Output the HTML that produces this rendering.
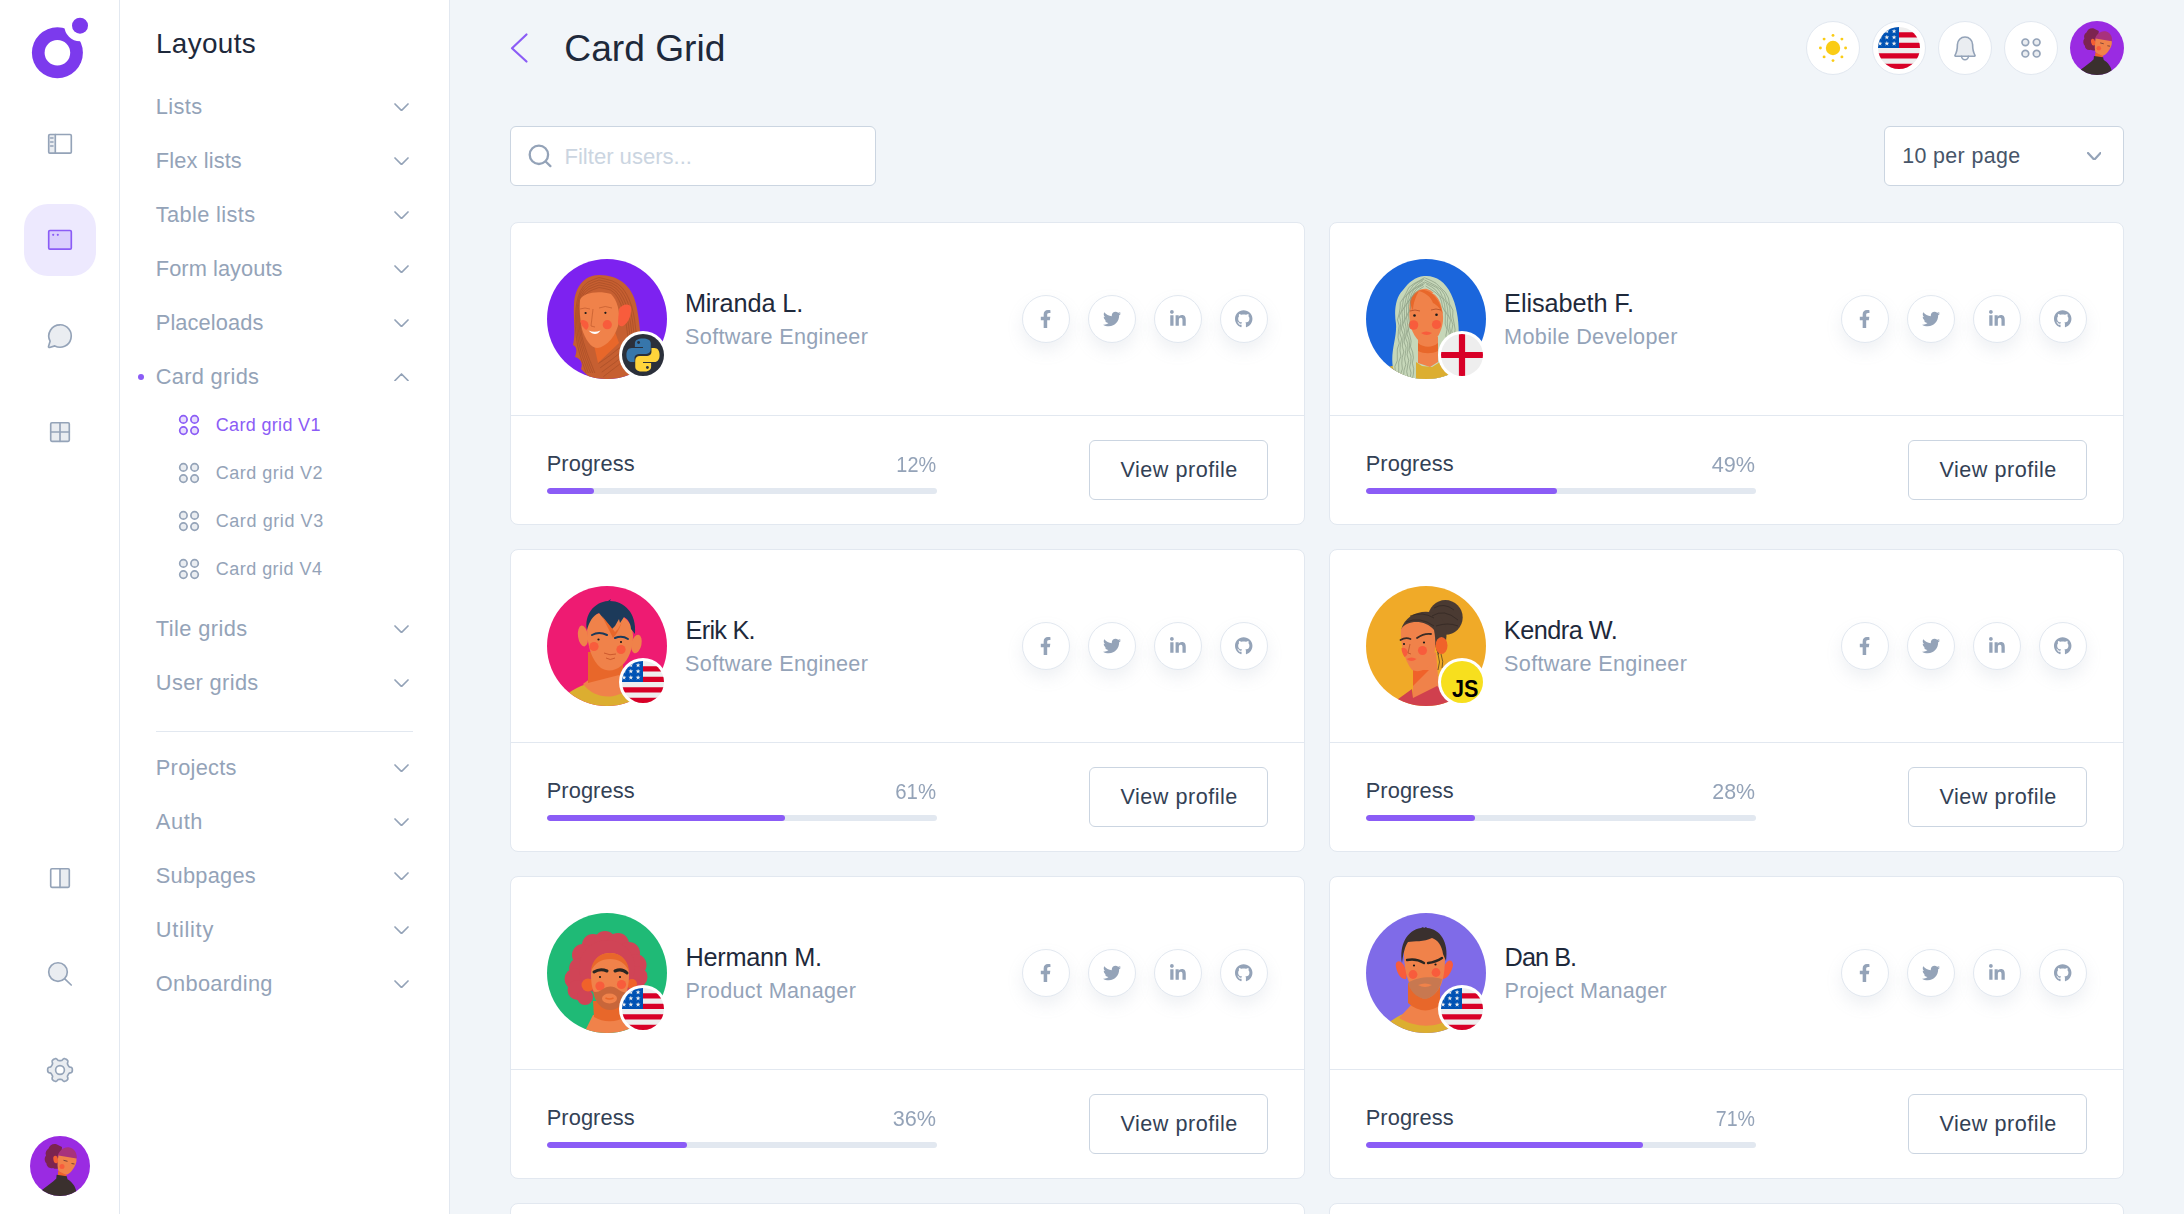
<!DOCTYPE html>
<html lang="en">
<head>
<meta charset="utf-8">
<title>Card Grid</title>
<style>
*{box-sizing:border-box;margin:0;padding:0}
html,body{width:2184px;height:1214px;overflow:hidden;background:#f1f5f9;font-family:"Liberation Sans",sans-serif;color:#1e293b}
.abs{position:absolute}
.t{position:absolute;white-space:nowrap;line-height:1}
#sb{position:absolute;left:0;top:0;width:120px;height:1214px;background:#fff;border-right:1px solid #e2e8f0}
#panelbg{position:absolute;left:120px;top:0;width:330px;height:1214px;background:#fff;border-right:1px solid #e2e8f0}
.act{position:absolute;left:24px;top:204px;width:72px;height:72px;border-radius:24px;background:#ede9fe}
.circ{position:absolute;top:21px;width:54px;height:54px;border-radius:50%;background:#fff;border:1px solid #e2e8f0}
.card{position:absolute;width:795px;height:303px;background:#fff;border:1px solid #e2e8f0;border-radius:8px}
.card .sep{position:absolute;left:0;right:0;top:192px;height:1px;background:#e2e8f0}
.card .av{position:absolute;left:36px;top:36px;width:120px;height:120px}
.card .bd{position:absolute;left:108px;top:108px;width:48px;height:48px;border-radius:50%;background:#fff;padding:3px}
.card .bd svg{display:block}
.card .so{position:absolute;top:72px;width:48px;height:48px;border-radius:50%;background:#fff;border:1px solid #e2e8f0;box-shadow:0 8px 16px rgba(148,163,184,.15)}
.card .so svg{position:absolute;fill:#94a3b8}
.card .bar{position:absolute;left:36px;top:265px;width:390px;height:6px;border-radius:3px;background:#e2e8f0;overflow:hidden}
.card .bar i{display:block;height:6px;border-radius:3px;background:#8b5cf6}
.card .btn{position:absolute;left:578px;top:217px;width:179px;height:60px;border:1px solid #cbd5e1;border-radius:6px;background:#fff}
</style>
</head>
<body>
<div id="sb"><svg class="abs" style="left:20px;top:8px" width="90" height="90" viewBox="0 0 90 90" ><defs><mask id="lm"><rect width="90" height="90" fill="#fff"/><circle cx="37.4" cy="44.7" r="12.8" fill="#000"/><circle cx="60" cy="17.7" r="15.6" fill="#000"/></mask></defs><circle cx="37.4" cy="44.7" r="25.5" fill="#7c3aed" mask="url(#lm)"/><circle cx="60" cy="17.7" r="8" fill="#7c3aed"/></svg><svg class="abs" style="left:44px;top:128px" width="32" height="32" viewBox="0 0 32 32" fill="none" stroke="#94a3b8" stroke-width="1.65" stroke-linecap="round" stroke-linejoin="round"><rect x="4.7" y="6.5" width="6.6" height="19" fill="#94a3b8" fill-opacity=".2" stroke="none"/><rect x="4.7" y="6.5" width="22.6" height="18.6" rx="1.2"/><path d="M11.3 6.5v18.6M6.6 10h2.4M6.6 14h2.4M6.6 18h2.4"/></svg><div class="act"></div><svg class="abs" style="left:44px;top:224px" width="32" height="32" viewBox="0 0 32 32" fill="none" stroke="#8b5cf6" stroke-width="1.65" stroke-linecap="round" stroke-linejoin="round"><rect x="4.7" y="6.5" width="22.6" height="18.6" rx="1.2" fill="#dacffd"/><circle cx="9.2" cy="10.8" r="1.1" fill="#8b5cf6" stroke="none"/><circle cx="13.8" cy="10.8" r="1.1" fill="#8b5cf6" stroke="none"/></svg><svg class="abs" style="left:44px;top:320px" width="32" height="32" viewBox="0 0 32 32" fill="none" stroke="#94a3b8" stroke-width="1.65" stroke-linecap="round" stroke-linejoin="round"><path d="M16 4.8a11.2 11.2 0 0 0-9.9 16.4l-1.6 5.2a.9.9 0 0 0 1.1 1.1l5.2-1.6A11.2 11.2 0 1 0 16 4.8z" fill="#94a3b8" fill-opacity=".2"/></svg><svg class="abs" style="left:44px;top:416px" width="32" height="32" viewBox="0 0 32 32" fill="none" stroke="#94a3b8" stroke-width="1.65" stroke-linecap="round" stroke-linejoin="round"><rect x="6.7" y="6.7" width="18.6" height="18.6" rx="1.2" fill="#94a3b8" fill-opacity=".2"/><path d="M16 6.7v18.6M6.7 16h18.6"/></svg><svg class="abs" style="left:44px;top:862px" width="32" height="32" viewBox="0 0 32 32" fill="none" stroke="#94a3b8" stroke-width="1.65" stroke-linecap="round" stroke-linejoin="round"><rect x="16" y="6.7" width="9.3" height="18.6" fill="#94a3b8" fill-opacity=".2" stroke="none"/><rect x="6.7" y="6.7" width="18.6" height="18.6" rx="1.2"/><path d="M16 6.7v18.6"/></svg><svg class="abs" style="left:44px;top:958px" width="32" height="32" viewBox="0 0 32 32" fill="none" stroke="#94a3b8" stroke-width="1.65" stroke-linecap="round" stroke-linejoin="round"><circle cx="14" cy="14" r="9.3" fill="#94a3b8" fill-opacity=".2"/><path d="M20.8 20.8l6.4 6.2"/></svg><svg class="abs" style="left:44px;top:1054px" width="32" height="32" viewBox="0 0 32 32" fill="none" stroke="#94a3b8" stroke-width="1.65" stroke-linecap="round" stroke-linejoin="round"><path d="M28.36 16.00 L28.35 16.43 L28.32 16.86 L28.25 17.29 L28.13 17.70 L27.92 18.10 L27.53 18.45 L26.91 18.72 L26.15 18.91 L25.52 19.09 L25.11 19.32 L24.85 19.58 L24.66 19.86 L24.50 20.14 L24.34 20.43 L24.17 20.72 L24.01 21.00 L23.84 21.29 L23.67 21.57 L23.53 21.88 L23.43 22.23 L23.44 22.70 L23.60 23.34 L23.81 24.08 L23.89 24.76 L23.78 25.27 L23.54 25.65 L23.24 25.96 L22.90 26.24 L22.55 26.48 L22.18 26.71 L21.80 26.91 L21.41 27.10 L21.01 27.25 L20.59 27.36 L20.14 27.37 L19.64 27.21 L19.10 26.80 L18.55 26.25 L18.08 25.79 L17.68 25.55 L17.33 25.46 L16.99 25.43 L16.66 25.43 L16.33 25.43 L16.00 25.44 L15.67 25.43 L15.34 25.43 L15.01 25.43 L14.67 25.46 L14.32 25.55 L13.92 25.79 L13.45 26.25 L12.90 26.80 L12.36 27.21 L11.86 27.37 L11.41 27.36 L10.99 27.25 L10.59 27.10 L10.20 26.91 L9.82 26.71 L9.45 26.48 L9.10 26.24 L8.76 25.96 L8.46 25.65 L8.22 25.27 L8.11 24.76 L8.19 24.08 L8.40 23.34 L8.56 22.70 L8.57 22.23 L8.47 21.88 L8.33 21.57 L8.16 21.29 L7.99 21.00 L7.83 20.72 L7.66 20.43 L7.50 20.14 L7.34 19.86 L7.15 19.58 L6.89 19.32 L6.48 19.09 L5.85 18.91 L5.09 18.72 L4.47 18.45 L4.08 18.10 L3.87 17.70 L3.75 17.29 L3.68 16.86 L3.65 16.43 L3.64 16.00 L3.65 15.57 L3.68 15.14 L3.75 14.71 L3.87 14.30 L4.08 13.90 L4.47 13.55 L5.09 13.28 L5.85 13.09 L6.48 12.91 L6.89 12.68 L7.15 12.42 L7.34 12.14 L7.50 11.86 L7.66 11.57 L7.83 11.28 L7.99 11.00 L8.16 10.71 L8.33 10.43 L8.47 10.12 L8.57 9.77 L8.56 9.30 L8.40 8.66 L8.19 7.92 L8.11 7.24 L8.22 6.73 L8.46 6.35 L8.76 6.04 L9.10 5.76 L9.45 5.52 L9.82 5.29 L10.20 5.09 L10.59 4.90 L10.99 4.75 L11.41 4.64 L11.86 4.63 L12.36 4.79 L12.90 5.20 L13.45 5.75 L13.92 6.21 L14.32 6.45 L14.67 6.54 L15.01 6.57 L15.34 6.57 L15.67 6.57 L16.00 6.56 L16.33 6.57 L16.66 6.57 L16.99 6.57 L17.33 6.54 L17.68 6.45 L18.08 6.21 L18.55 5.75 L19.10 5.20 L19.64 4.79 L20.14 4.63 L20.59 4.64 L21.01 4.75 L21.41 4.90 L21.80 5.09 L22.18 5.29 L22.55 5.52 L22.90 5.76 L23.24 6.04 L23.54 6.35 L23.78 6.73 L23.89 7.24 L23.81 7.92 L23.60 8.66 L23.44 9.30 L23.43 9.77 L23.53 10.12 L23.67 10.43 L23.84 10.71 L24.01 11.00 L24.17 11.28 L24.34 11.57 L24.50 11.86 L24.66 12.14 L24.85 12.42 L25.11 12.68 L25.52 12.91 L26.15 13.09 L26.91 13.28 L27.53 13.55 L27.92 13.90 L28.13 14.30 L28.25 14.71 L28.32 15.14 L28.35 15.57Z" fill="#94a3b8" fill-opacity=".2"/><circle cx="16" cy="16" r="4.4" fill="#fff"/></svg><svg class="abs" style="left:30px;top:1136px" width="60" height="60" viewBox="0 0 60 60" ><defs><clipPath id="wa1"><circle cx="30" cy="30" r="30"/></clipPath></defs><g clip-path="url(#wa1)"><rect width="60" height="60" fill="#9a2be2"/><path d="M27 8.500c-3.500-1.500-7.500.500-8.500 4-2.500 1.500-3.500 4.500-2.500 7-2 2.500-1.500 6 .500 8 0 3 3 5.500 6.500 4.500 2.500 1.500 5.500 1 7.500-1l1.500-20z" fill="#7c2450"/><path d="M27.500 21c1-6 6.500-10.500 12-9.500 4.500 1 7.500 5 7.300 10.500l-1.300 1.500-17-3z" fill="#a8327c"/><path d="M28.500 19.500l18 3c.500 4-1.500 8-4.500 12-2 2.500-4.500 4.500-6.500 4.300-3-.800-6.500-2.800-7.500-4.800-.800-5-.500-10 .500-14.500z" fill="#f0824a"/><ellipse cx="25.700" cy="23.500" rx="2.300" ry="3.800" fill="#f55f33" transform="rotate(-12 25.700 23.500)"/><circle cx="32" cy="30.400" r="2.500" fill="#f85c3c"/><path d="M33.500 24.300l4 1M41.500 27.500l3 .500" stroke="#5a3030" stroke-width=".800" fill="none"/><path d="M28 35l8.500 4-.300 2.500-8.200-1z" fill="#f0622a"/><path d="M26.600 38.800l10.200 1.400.700 3c4.500 2.800 8 6.800 9 12.800l.500 6H11l1-8c5-4 11-8 14.300-11.500z" fill="#3a302e"/></g></svg></div>
<div id="panelbg"></div><div class="t" style="left:156.00px;top:30.00px;font-size:27.90px;color:#1e293b;letter-spacing:0.347px;">Layouts</div><div class="t" style="left:155.80px;top:96.00px;font-size:21.80px;color:#94a3b8;letter-spacing:0.400px;">Lists</div><svg class="abs" style="left:393.5px;top:102.75px" width="15" height="8.5" viewBox="0 0 15 8.5" ><path d="M1 1 l6.5 6.5 l6.5 -6.5" fill="none" stroke="#94a3b8" stroke-width="1.7" stroke-linecap="round" stroke-linejoin="round"/></svg><div class="t" style="left:155.80px;top:150.00px;font-size:21.80px;color:#94a3b8;letter-spacing:0.133px;">Flex lists</div><svg class="abs" style="left:393.5px;top:156.75px" width="15" height="8.5" viewBox="0 0 15 8.5" ><path d="M1 1 l6.5 6.5 l6.5 -6.5" fill="none" stroke="#94a3b8" stroke-width="1.7" stroke-linecap="round" stroke-linejoin="round"/></svg><div class="t" style="left:155.80px;top:204.00px;font-size:21.80px;color:#94a3b8;letter-spacing:0.360px;">Table lists</div><svg class="abs" style="left:393.5px;top:210.75px" width="15" height="8.5" viewBox="0 0 15 8.5" ><path d="M1 1 l6.5 6.5 l6.5 -6.5" fill="none" stroke="#94a3b8" stroke-width="1.7" stroke-linecap="round" stroke-linejoin="round"/></svg><div class="t" style="left:155.80px;top:258.00px;font-size:21.80px;color:#94a3b8;letter-spacing:0.063px;">Form layouts</div><svg class="abs" style="left:393.5px;top:264.75px" width="15" height="8.5" viewBox="0 0 15 8.5" ><path d="M1 1 l6.5 6.5 l6.5 -6.5" fill="none" stroke="#94a3b8" stroke-width="1.7" stroke-linecap="round" stroke-linejoin="round"/></svg><div class="t" style="left:155.80px;top:312.00px;font-size:21.80px;color:#94a3b8;letter-spacing:0.094px;">Placeloads</div><svg class="abs" style="left:393.5px;top:318.75px" width="15" height="8.5" viewBox="0 0 15 8.5" ><path d="M1 1 l6.5 6.5 l6.5 -6.5" fill="none" stroke="#94a3b8" stroke-width="1.7" stroke-linecap="round" stroke-linejoin="round"/></svg><div class="t" style="left:155.80px;top:366.00px;font-size:21.80px;color:#94a3b8;letter-spacing:0.294px;">Card grids</div><svg class="abs" style="left:393.5px;top:372.75px" width="15" height="8.5" viewBox="0 0 15 8.5" ><path d="M1 7.5 l6.5 -6.5 l6.5 6.5" fill="none" stroke="#94a3b8" stroke-width="1.7" stroke-linecap="round" stroke-linejoin="round"/></svg><div class="t" style="left:155.80px;top:618.00px;font-size:21.80px;color:#94a3b8;letter-spacing:0.418px;">Tile grids</div><svg class="abs" style="left:393.5px;top:624.75px" width="15" height="8.5" viewBox="0 0 15 8.5" ><path d="M1 1 l6.5 6.5 l6.5 -6.5" fill="none" stroke="#94a3b8" stroke-width="1.7" stroke-linecap="round" stroke-linejoin="round"/></svg><div class="t" style="left:155.80px;top:672.00px;font-size:21.80px;color:#94a3b8;letter-spacing:0.350px;">User grids</div><svg class="abs" style="left:393.5px;top:678.75px" width="15" height="8.5" viewBox="0 0 15 8.5" ><path d="M1 1 l6.5 6.5 l6.5 -6.5" fill="none" stroke="#94a3b8" stroke-width="1.7" stroke-linecap="round" stroke-linejoin="round"/></svg><div class="t" style="left:155.80px;top:757.00px;font-size:21.80px;color:#94a3b8;letter-spacing:0.278px;">Projects</div><svg class="abs" style="left:393.5px;top:763.75px" width="15" height="8.5" viewBox="0 0 15 8.5" ><path d="M1 1 l6.5 6.5 l6.5 -6.5" fill="none" stroke="#94a3b8" stroke-width="1.7" stroke-linecap="round" stroke-linejoin="round"/></svg><div class="t" style="left:155.80px;top:811.00px;font-size:21.80px;color:#94a3b8;letter-spacing:0.615px;">Auth</div><svg class="abs" style="left:393.5px;top:817.75px" width="15" height="8.5" viewBox="0 0 15 8.5" ><path d="M1 1 l6.5 6.5 l6.5 -6.5" fill="none" stroke="#94a3b8" stroke-width="1.7" stroke-linecap="round" stroke-linejoin="round"/></svg><div class="t" style="left:155.80px;top:865.00px;font-size:21.80px;color:#94a3b8;letter-spacing:0.256px;">Subpages</div><svg class="abs" style="left:393.5px;top:871.75px" width="15" height="8.5" viewBox="0 0 15 8.5" ><path d="M1 1 l6.5 6.5 l6.5 -6.5" fill="none" stroke="#94a3b8" stroke-width="1.7" stroke-linecap="round" stroke-linejoin="round"/></svg><div class="t" style="left:155.80px;top:919.00px;font-size:21.80px;color:#94a3b8;letter-spacing:0.700px;">Utility</div><svg class="abs" style="left:393.5px;top:925.75px" width="15" height="8.5" viewBox="0 0 15 8.5" ><path d="M1 1 l6.5 6.5 l6.5 -6.5" fill="none" stroke="#94a3b8" stroke-width="1.7" stroke-linecap="round" stroke-linejoin="round"/></svg><div class="t" style="left:155.80px;top:973.00px;font-size:21.80px;color:#94a3b8;letter-spacing:0.304px;">Onboarding</div><svg class="abs" style="left:393.5px;top:979.75px" width="15" height="8.5" viewBox="0 0 15 8.5" ><path d="M1 1 l6.5 6.5 l6.5 -6.5" fill="none" stroke="#94a3b8" stroke-width="1.7" stroke-linecap="round" stroke-linejoin="round"/></svg><div class="abs" style="left:138px;top:374px;width:6px;height:6px;border-radius:50%;background:#8b5cf6"></div><div class="t" style="left:215.70px;top:416.00px;font-size:18.00px;color:#8b5cf6;letter-spacing:0.339px;">Card grid V1</div><svg class="abs" style="left:176px;top:412px" width="26" height="26" viewBox="0 0 26 26" ><g fill="#8b5cf6" fill-opacity="0.2" stroke="#8b5cf6" stroke-width="1.7"><circle cx="7.4" cy="7.4" r="3.7"/><circle cx="7.4" cy="18.6" r="3.7"/><circle cx="18.6" cy="7.4" r="3.7"/><circle cx="18.6" cy="18.6" r="3.7"/></g></svg><div class="t" style="left:215.70px;top:464.00px;font-size:18.00px;color:#94a3b8;letter-spacing:0.521px;">Card grid V2</div><svg class="abs" style="left:176px;top:460px" width="26" height="26" viewBox="0 0 26 26" ><g fill="#94a3b8" fill-opacity="0.2" stroke="#94a3b8" stroke-width="1.7"><circle cx="7.4" cy="7.4" r="3.7"/><circle cx="7.4" cy="18.6" r="3.7"/><circle cx="18.6" cy="7.4" r="3.7"/><circle cx="18.6" cy="18.6" r="3.7"/></g></svg><div class="t" style="left:215.70px;top:512.00px;font-size:18.00px;color:#94a3b8;letter-spacing:0.585px;">Card grid V3</div><svg class="abs" style="left:176px;top:508px" width="26" height="26" viewBox="0 0 26 26" ><g fill="#94a3b8" fill-opacity="0.2" stroke="#94a3b8" stroke-width="1.7"><circle cx="7.4" cy="7.4" r="3.7"/><circle cx="7.4" cy="18.6" r="3.7"/><circle cx="18.6" cy="7.4" r="3.7"/><circle cx="18.6" cy="18.6" r="3.7"/></g></svg><div class="t" style="left:215.70px;top:560.00px;font-size:18.00px;color:#94a3b8;letter-spacing:0.485px;">Card grid V4</div><svg class="abs" style="left:176px;top:556px" width="26" height="26" viewBox="0 0 26 26" ><g fill="#94a3b8" fill-opacity="0.2" stroke="#94a3b8" stroke-width="1.7"><circle cx="7.4" cy="7.4" r="3.7"/><circle cx="7.4" cy="18.6" r="3.7"/><circle cx="18.6" cy="7.4" r="3.7"/><circle cx="18.6" cy="18.6" r="3.7"/></g></svg><div class="abs" style="left:156px;top:731px;width:257px;height:1px;background:#e2e8f0"></div>
<svg class="abs" style="left:506px;top:30px" width="26" height="36" viewBox="0 0 26 36" ><path d="M20.5 4.500L6 18.200l14.500 13.300" fill="none" stroke="#8b5cf6" stroke-width="2.200" stroke-linecap="round" stroke-linejoin="round"/></svg><div class="t" style="left:564.30px;top:30.00px;font-size:37.20px;color:#1e293b;letter-spacing:-0.008px;">Card Grid</div><div class="circ" style="left:1806px"></div><div class="circ" style="left:1872px"></div><div class="circ" style="left:1938px"></div><div class="circ" style="left:2004px"></div><svg class="abs" style="left:1806px;top:21px" width="54" height="54" viewBox="0 0 54 54" ><g fill="#facc15"><circle cx="27" cy="27" r="7.200"/><circle cx="39.60" cy="27.00" r="1.450"/><circle cx="35.91" cy="35.91" r="1.450"/><circle cx="27.00" cy="39.60" r="1.450"/><circle cx="18.09" cy="35.91" r="1.450"/><circle cx="14.40" cy="27.00" r="1.450"/><circle cx="18.09" cy="18.09" r="1.450"/><circle cx="27.00" cy="14.40" r="1.450"/><circle cx="35.91" cy="18.09" r="1.450"/></g></svg><svg class="abs" style="left:1878px;top:27px" width="42" height="42" viewBox="0 0 512 512"><defs><clipPath id="tf"><circle cx="256" cy="256" r="256"/></clipPath></defs><g clip-path="url(#tf)"><rect width="512" height="512" fill="#eee"/><path fill="#d80027" d="M224 64h288v64H224zm0 128h288v64H224zM0 320h512v64H0zm0 128h512v64H0z"/><rect width="256" height="256" fill="#0052b4"/><g fill="#eee"><polygon points="24.0,21.0 31.3,42.0 53.5,42.4 35.8,55.8 42.2,77.1 24.0,64.4 5.8,77.1 12.2,55.8 -5.5,42.4 16.7,42.0"/><polygon points="108.0,21.0 115.3,42.0 137.5,42.4 119.8,55.8 126.2,77.1 108.0,64.4 89.8,77.1 96.2,55.8 78.5,42.4 100.7,42.0"/><polygon points="196.0,21.0 203.3,42.0 225.5,42.4 207.8,55.8 214.2,77.1 196.0,64.4 177.8,77.1 184.2,55.8 166.5,42.4 188.7,42.0"/><polygon points="24.0,95.0 31.3,116.0 53.5,116.4 35.8,129.8 42.2,151.1 24.0,138.4 5.8,151.1 12.2,129.8 -5.5,116.4 16.7,116.0"/><polygon points="108.0,95.0 115.3,116.0 137.5,116.4 119.8,129.8 126.2,151.1 108.0,138.4 89.8,151.1 96.2,129.8 78.5,116.4 100.7,116.0"/><polygon points="196.0,95.0 203.3,116.0 225.5,116.4 207.8,129.8 214.2,151.1 196.0,138.4 177.8,151.1 184.2,129.8 166.5,116.4 188.7,116.0"/><polygon points="24.0,171.0 31.3,192.0 53.5,192.4 35.8,205.8 42.2,227.1 24.0,214.4 5.8,227.1 12.2,205.8 -5.5,192.4 16.7,192.0"/><polygon points="108.0,171.0 115.3,192.0 137.5,192.4 119.8,205.8 126.2,227.1 108.0,214.4 89.8,227.1 96.2,205.8 78.5,192.4 100.7,192.0"/><polygon points="196.0,171.0 203.3,192.0 225.5,192.4 207.8,205.8 214.2,227.1 196.0,214.4 177.8,227.1 184.2,205.8 166.5,192.4 188.7,192.0"/></g></g></svg><svg class="abs" style="left:1949px;top:32px" width="32" height="32" viewBox="0 0 32 32" fill="none" stroke="#94a3b8" stroke-width="1.600" stroke-linecap="round" stroke-linejoin="round"><path d="M6 23.300c1.700-2.800 2.400-6.100 2.400-10.700a7.600 7.600 0 0 1 15.200 0c0 4.600.700 7.900 2.400 10.700a.600.600 0 0 1-.500.900H6.500a.600.600 0 0 1-.500-.900z" fill="#94a3b8" fill-opacity=".2"/><path d="M12.600 24.300a3.400 3.400 0 0 0 6.800 0"/></svg><svg class="abs" style="left:2015px;top:32px" width="32" height="32" viewBox="0 0 32 32" ><g fill="#94a3b8" fill-opacity=".2" stroke="#94a3b8" stroke-width="1.700"><circle cx="10.35" cy="10.35" r="3.35"/><circle cx="10.35" cy="21.65" r="3.35"/><circle cx="21.65" cy="10.35" r="3.35"/><circle cx="21.65" cy="21.65" r="3.35"/></g></svg><svg class="abs" style="left:2070px;top:21px" width="54" height="54" viewBox="0 0 60 60" ><defs><clipPath id="wa2"><circle cx="30" cy="30" r="30"/></clipPath></defs><g clip-path="url(#wa2)"><rect width="60" height="60" fill="#9a2be2"/><path d="M27 8.500c-3.500-1.500-7.500.500-8.500 4-2.500 1.500-3.500 4.500-2.500 7-2 2.500-1.500 6 .500 8 0 3 3 5.500 6.500 4.500 2.500 1.500 5.500 1 7.500-1l1.500-20z" fill="#7c2450"/><path d="M27.500 21c1-6 6.500-10.500 12-9.500 4.500 1 7.500 5 7.300 10.500l-1.300 1.500-17-3z" fill="#a8327c"/><path d="M28.500 19.500l18 3c.500 4-1.500 8-4.500 12-2 2.500-4.500 4.500-6.500 4.300-3-.800-6.500-2.800-7.500-4.800-.800-5-.500-10 .500-14.500z" fill="#f0824a"/><ellipse cx="25.700" cy="23.500" rx="2.300" ry="3.800" fill="#f55f33" transform="rotate(-12 25.700 23.500)"/><circle cx="32" cy="30.400" r="2.500" fill="#f85c3c"/><path d="M33.500 24.300l4 1M41.500 27.500l3 .500" stroke="#5a3030" stroke-width=".800" fill="none"/><path d="M28 35l8.500 4-.300 2.500-8.200-1z" fill="#f0622a"/><path d="M26.600 38.800l10.200 1.400.700 3c4.500 2.800 8 6.800 9 12.800l.500 6H11l1-8c5-4 11-8 14.300-11.500z" fill="#3a302e"/></g></svg><div class="abs" style="left:510px;top:126px;width:366px;height:60px;background:#fff;border:1px solid #cbd5e1;border-radius:6px"></div><svg class="abs" style="left:526px;top:142px" width="30" height="30" viewBox="0 0 30 30" ><circle cx="12.900" cy="12.800" r="9.200" fill="none" stroke="#94a3b8" stroke-width="2.300"/><path d="M19.600 19.500l4.800 4.600" stroke="#94a3b8" stroke-width="2.300" stroke-linecap="round"/></svg><div class="t" style="left:564.50px;top:146.00px;font-size:22.10px;color:#cbd5e1;letter-spacing:-0.017px;">Filter users...</div><div class="abs" style="left:1884px;top:126px;width:240px;height:60px;background:#fff;border:1px solid #cbd5e1;border-radius:6px"></div><div class="t" style="left:1902.30px;top:146.00px;font-size:21.40px;color:#475569;letter-spacing:0.358px;">10 per page</div><svg class="abs" style="left:2086.75px;top:151.6px" width="14.5" height="8.8" viewBox="0 0 14.5 8.8" ><path d="M1 1 l6.25 6.8 l6.25 -6.8" fill="none" stroke="#94a3b8" stroke-width="2.2" stroke-linecap="round" stroke-linejoin="round"/></svg><div class="card" style="left:510px;top:222px"><svg class="av" viewBox="0 0 120 120"><defs><clipPath id="ca0"><circle cx="60" cy="60" r="60"/></clipPath></defs><g clip-path="url(#ca0)"><rect width="120" height="120" fill="#7d22f0"/><path d="M52 16C38 16 28 27 27 45c-1 15 2 28-1 41 4 2 4 6 2 12 6 2 8 6 6 12l14 14h54l-5-24c-4-20-4-38-8-55C85 27 72 16 52 16z" fill="#c65f31"/><g stroke="#a84e26" stroke-width=".7" fill="none"><path d="M52.0 18.5L46.4 20.6L40.9 23.1L36.5 27.1L33.4 32.2L31.3 37.8L29.8 43.6L29.0 49.6L28.5 55.5L28.3 61.5L28.4 67.5L28.8 73.5L29.5 79.4L30.4 85.3L31.7 91.2L33.3 97.0L35.2 102.7L37.2 108.3L39.2 114.0M52.0 21.0L46.5 23.0L41.2 25.4L36.9 29.3L33.8 34.3L31.9 39.8L30.6 45.5L29.9 51.3L29.6 57.2L29.6 63.0L29.9 68.9L30.4 74.7L31.2 80.4L32.4 86.2L33.8 91.8L35.4 97.4L37.4 103.0L39.4 108.5L41.3 114.0M52.0 23.5L46.6 25.5L41.4 27.8L37.2 31.6L34.3 36.5L32.5 41.9L31.4 47.5L30.9 53.1L30.7 58.8L30.9 64.5L31.3 70.2L32.0 75.9L33.0 81.5L34.3 87.0L35.8 92.5L37.5 97.9L39.5 103.3L41.5 108.6L43.5 114.0M52.0 26.0L46.8 27.9L41.7 30.1L37.5 33.8L34.7 38.6L33.1 43.9L32.2 49.4L31.8 54.9L31.9 60.5L32.2 66.0L32.7 71.6L33.6 77.0L34.8 82.5L36.2 87.8L37.9 93.1L39.7 98.4L41.6 103.6L43.6 108.8L45.7 114.0M52.0 28.5L46.9 30.3L41.9 32.5L37.8 36.0L35.1 40.7L33.7 45.9L33.0 51.3L32.8 56.7L33.0 62.1L33.4 67.5L34.2 72.9L35.2 78.2L36.5 83.5L38.2 88.6L39.9 93.8L41.8 98.9L43.8 103.9L45.8 109.0L47.8 114.0M52.0 18.5L58.5 20.1L65.0 21.8L70.8 24.9L75.7 29.4L79.4 34.9L82.3 40.9L84.6 47.2L86.3 53.7L87.5 60.2L88.3 66.9L89.1 73.5L89.9 80.2L90.6 86.8L91.5 93.5L92.3 100.1L93.1 106.7L94.0 113.4L94.8 120.0M52.0 21.0L58.3 22.4L64.6 24.1L70.1 27.3L74.6 31.9L78.0 37.3L80.6 43.2L82.7 49.4L84.3 55.7L85.5 62.0L86.3 68.5L87.1 74.9L87.8 81.4L88.5 87.8L89.3 94.3L90.2 100.7L91.0 107.1L91.8 113.6L92.7 120.0M52.0 23.5L58.1 24.8L64.2 26.4L69.4 29.7L73.5 34.4L76.5 39.8L79.0 45.6L80.9 51.6L82.4 57.7L83.5 63.8L84.3 70.1L85.0 76.3L85.7 82.6L86.4 88.8L87.2 95.1L88.0 101.3L88.8 107.5L89.7 113.8L90.5 120.0M52.0 26.0L58.0 27.1L63.8 28.7L68.7 32.1L72.3 36.9L75.1 42.3L77.3 47.9L79.0 53.7L80.4 59.7L81.5 65.7L82.3 71.7L83.0 77.7L83.6 83.8L84.3 89.8L85.1 95.9L85.9 101.9L86.7 107.9L87.5 114.0L88.3 120.0M52.0 28.5L57.8 29.5L63.5 31.0L68.1 34.5L71.2 39.4L73.6 44.7L75.6 50.3L77.2 55.9L78.4 61.7L79.5 67.5L80.3 73.3L81.0 79.1L81.6 85.0L82.2 90.8L83.0 96.7L83.7 102.5L84.5 108.3L85.4 114.2L86.2 120.0M51.6 104.4L55.2 101.9L58.8 99.4L62.3 96.9L65.7 94.2L69.1 91.5L72.5 88.8L75.9 86.0L79.2 83.2M53.2 108.8L56.9 106.1L60.7 103.4L64.4 100.7L68.0 97.9L71.6 95.1L75.2 92.2L78.8 89.3L82.4 86.4M54.8 113.2L58.7 110.3L62.6 107.4L66.5 104.5L70.3 101.6L74.2 98.6L78.0 95.6L81.8 92.6L85.6 89.6M56.4 117.6L60.5 114.5L64.5 111.4L68.6 108.3L72.6 105.2L76.7 102.1L80.7 99.0L84.8 95.9L88.8 92.8"/></g><path d="M47 86l20-16 5 14-21 20z" fill="#e8672a"/><path d="M33 41c2-7 18-10 31-6 6 6 9 17 8 27-2 14-12 26-22 27-6 0-12-9-15-19-2-10-3-20-2-29z" fill="#f0824a"/><path d="M72 50c3-5 10-6 12-2 1 6-2 16-8 19-3 1-5-1-5-4z" fill="#f85c3c"/><path d="M33.2 62a5 5 0 0 1 6 9c-3-2-5-5-6-9z" fill="#f85c3c"/><circle cx="60.3" cy="65.7" r="4.6" fill="#f85c3c"/><path d="M41.5 71.5q6 2.5 12 0q-5 7-12 0z" fill="#fff"/><circle cx="38.6" cy="54" r="1.1" fill="#1a1a1a"/><circle cx="58.4" cy="53.8" r="1.1" fill="#1a1a1a"/><path d="M33 50q5-2 10 0M52 49q6-3 13 0M46 50l-2 17 4 1" stroke="#c65f31" stroke-width=".8" fill="none"/></g></svg><div class="bd"><svg viewBox="0 0 512 512" width="42" height="42"><circle cx="256" cy="256" r="256" fill="#2b303b"/><g transform="translate(41 41) scale(4.3)"><path d="M49.5 3C36 3 27 7 27 17v10h23v3H18C8 30 3 38 3 50s5 20 15 20h8V59c0-9 7-12 15-12h18c8 0 13-6 13-13V17C72 7 63 3 49.500 3z" fill="#3776ab"/><circle cx="37.500" cy="14.500" r="4" fill="#2b303b"/><g transform="rotate(180 50 50)"><path d="M49.5 3C36 3 27 7 27 17v10h23v3H18C8 30 3 38 3 50s5 20 15 20h8V59c0-9 7-12 15-12h18c8 0 13-6 13-13V17C72 7 63 3 49.500 3z" fill="#ffd43b"/><circle cx="37.500" cy="14.500" r="4" fill="#2b303b"/></g></g></svg></div><div class="t" style="left:173.90px;top:68.00px;font-size:25.30px;color:#1e293b;letter-spacing:-0.138px;">Miranda L.</div><div class="t" style="left:174.10px;top:103.00px;font-size:21.60px;color:#94a3b8;letter-spacing:0.318px;">Software Engineer</div><div class="so" style="left:511px"><svg viewBox="0 0 320 512" style="left:17.38px;top:14px;width:11.25px;height:18px"><path d="M279.14 288l14.22-92.66h-88.91v-60.13c0-25.35 12.42-50.06 52.24-50.06h40.42V6.26S260.43 0 225.36 0c-73.22 0-121.08 44.38-121.08 124.72v70.62H22.89V288h81.39v224h100.17V288z"/></svg></div><div class="so" style="left:577px"><svg viewBox="0 0 512 512" style="left:14.00px;top:14px;width:18.00px;height:18px"><path d="M459.37 151.716c.325 4.548.325 9.097.325 13.645 0 138.72-105.583 298.558-298.558 298.558-59.452 0-114.68-17.219-161.137-47.106 8.447.974 16.568 1.299 25.34 1.299 49.055 0 94.213-16.568 130.274-44.832-46.132-.975-84.792-31.188-98.112-72.772 6.498.974 12.995 1.624 19.818 1.624 9.421 0 18.843-1.3 27.614-3.573-48.081-9.747-84.143-51.98-84.143-102.985v-1.299c13.969 7.797 30.214 12.67 47.431 13.319-28.264-18.843-46.781-51.005-46.781-87.391 0-19.492 5.197-37.36 14.294-52.954 51.655 63.675 129.3 105.258 216.365 109.807-1.624-7.797-2.599-15.918-2.599-24.04 0-57.828 46.782-104.934 104.934-104.934 30.213 0 57.502 12.67 76.67 33.137 23.715-4.548 46.456-13.32 66.599-25.34-7.798 24.366-24.366 44.833-46.132 57.827 21.117-2.273 41.584-8.122 60.426-16.243-14.292 20.791-32.161 39.308-52.628 54.253z"/></svg></div><div class="so" style="left:643px"><svg viewBox="0 0 448 512" style="left:15.12px;top:14px;width:15.75px;height:18px"><path d="M100.28 448H7.4V148.9h92.88zM53.79 108.1C24.09 108.1 0 83.5 0 53.8a53.79 53.79 0 0 1 107.58 0c0 29.7-24.1 54.3-53.79 54.3zM447.9 448h-92.68V302.4c0-34.7-.7-79.2-48.29-79.2-48.29 0-55.69 37.7-55.69 76.7V448h-92.78V148.9h89.08v40.8h1.3c12.4-23.5 42.69-48.3 87.88-48.3 94 0 111.28 61.9 111.28 142.3V448z"/></svg></div><div class="so" style="left:709px"><svg viewBox="0 0 496 512" style="left:14.28px;top:14px;width:17.44px;height:18px"><path d="M244.8 8C106.1 8 0 113.3 0 252c0 110.9 69.8 205.800 169.5 239.2 12.8 2.300 17.3-5.600 17.3-12.100 0-6.200-.3-40.400-.3-61.400 0 0-70 15-84.700-29.800 0 0-11.400-29.100-27.800-36.600 0 0-22.900-15.700 1.600-15.400 0 0 24.900 2 38.600 25.800 21.900 38.600 58.600 27.500 72.900 20.900 2.300-16 8.800-27.100 16-33.700-55.900-6.200-112.300-14.300-112.300-110.500 0-27.500 7.600-41.300 23.600-58.900-2.600-6.500-11.100-33.300 2.600-67.900 20.900-6.500 69 27 69 27 20-5.600 41.500-8.500 62.800-8.500s42.800 2.900 62.800 8.500c0 0 48.100-33.600 69-27 13.700 34.700 5.200 61.400 2.600 67.900 16 17.700 25.800 31.500 25.800 58.900 0 96.500-58.900 104.200-114.800 110.500 9.200 7.900 17 22.900 17 46.400 0 33.700-.3 75.400-.3 83.600 0 6.500 4.600 14.400 17.300 12.100C428.200 457.800 496 362.900 496 252 496 113.300 383.500 8 244.800 8z"/></svg></div><div class="sep"></div><div class="t" style="left:35.70px;top:230.00px;font-size:21.80px;color:#334155;letter-spacing:0.092px;">Progress</div><div class="t" style="left:381.44px;top:231.00px;font-size:22.00px;color:#94a3b8;transform:scaleX(0.901);transform-origin:right 50%;">12%</div><div class="bar"><i style="width:46.8px"></i></div><div class="btn"></div><div class="t" style="left:609.50px;top:236.00px;font-size:21.60px;color:#334155;letter-spacing:0.505px;">View profile</div></div><div class="card" style="left:1329px;top:222px"><svg class="av" viewBox="0 0 120 120"><defs><clipPath id="ca1"><circle cx="60" cy="60" r="60"/></clipPath></defs><g clip-path="url(#ca1)"><rect width="120" height="120" fill="#1b66dc"/><path d="M22 108l28-7h24l24 10v14H22z" fill="#dcae30"/><path d="M58 17c-9 1-15 6-21 14-8 8-9 22-7 34 1 14-6 28-3 44l12 16h53c2-14-2-26 0-40 2-15 0-36-7-50-6-13-16-19-27-18z" fill="#c6d7b9"/><path d="M50 103l6 4 10 1 8-5 7 3 2 19H50z" fill="#dcae30"/><path d="M52 78h20v25l-8 5-12-4z" fill="#f0824a"/><path d="M52 84c6 5 14 5 20 0v8c-6 3-14 3-20 0z" fill="#e8672a"/><path d="M44 42c2-8 10-13 17-12 10 3 15 14 16 27 1 13-7 27-15 29-8 0-16-10-18-22-1-8-1-15 0-22z" fill="#f0824a"/><path d="M52 32c10-4 22 6 25 24-2-6-6-10-10-12-2-6-8-11-15-12zM44 44c1-6 5-10 9-12-3 5-6 12-6 20z" fill="#e8672a"/><circle cx="47.5" cy="66" r="4.8" fill="#f85c3c"/><circle cx="70.5" cy="65.5" r="4.6" fill="#f85c3c"/><circle cx="48.5" cy="56.5" r="1.3" fill="#1a1a1a"/><circle cx="70.5" cy="55.8" r="1.3" fill="#1a1a1a"/><path d="M44 52q5-2 10 0M65 51q5-2 10 0" stroke="#b8522a" stroke-width=".9" fill="none"/><path d="M55 74q5-3 11 0q-5 4-11 0z" fill="#f85c3c"/><path d="M66 34c8 4 14 16 12 32 2 4 1 10-2 16 6 6 8 14 6 24l6 4c4-16 6-52-6-70-3-5-10-7-16-6z" fill="#c6d7b9"/><path d="M46 100c2 6 4 14 4 25H38c-2-10 0-20 2-28z" fill="#c6d7b9"/><g stroke="#7f9279" stroke-width=".6" fill="none"><path d="M58.7 18.5L53.7 21.5L47.8 24.7L42.8 28.5L40.6 33.1L37.9 38.2L34.3 43.6L34.1 49.2L33.1 55.0L31.5 60.8L33.2 66.7L32.4 72.5L32.0 78.4L33.3 84.2L31.3 90.0L31.3 95.8L31.3 101.6L28.9 107.4L29.4 113.2M58.2 20.0L52.3 22.9L47.4 26.1L44.6 30.2L41.5 34.8L37.5 40.0L36.7 45.4L35.8 51.0L33.5 56.7L34.7 62.5L34.4 68.3L33.8 74.1L35.6 79.9L34.4 85.7L34.0 91.5L34.9 97.2L32.7 103.0L32.7 108.7L32.7 114.5M57.1 21.5L52.6 24.4L49.0 27.6L45.1 31.8L40.8 36.6L39.6 41.8L38.5 47.2L35.9 52.8L36.5 58.5L36.4 64.2L35.3 70.0L37.3 75.7L36.8 81.4L36.3 87.1L37.8 92.9L36.2 98.6L35.8 104.3L36.4 110.0L34.3 115.7M58.3 23.0L53.9 25.8L48.8 29.1L44.1 33.4L42.5 38.3L41.2 43.6L38.3 49.0L38.5 54.6L38.4 60.3L36.9 65.9L38.6 71.6L38.8 77.3L38.1 83.0L40.1 88.6L39.4 94.3L38.6 100.0L39.8 105.6L38.0 111.3L37.6 117.0M58.7 24.5L52.9 27.2L47.7 30.6L45.5 35.1L43.9 40.1L40.8 45.4L40.5 50.8L40.5 56.4L38.7 62.0L39.9 67.7L40.4 73.3L39.6 78.9L41.7 84.5L41.9 90.1L41.1 95.7L42.7 101.3L41.6 107.0L40.7 112.6L41.9 118.2M57.2 26.0L52.2 28.6L48.9 32.1L46.6 36.7L43.1 41.8L42.5 47.2L42.6 52.7L40.6 58.2L41.4 63.8L42.1 69.4L41.0 75.0L42.9 80.5L43.7 86.1L43.1 91.6L45.0 97.1L44.8 102.7L43.6 108.3L45.0 113.9L44.0 119.5M57.8 27.5L53.7 30.0L49.6 33.6L45.5 38.3L44.4 43.6L44.5 49.0L42.4 54.5L42.8 60.0L43.7 65.6L42.4 71.1L43.9 76.6L45.1 82.1L44.5 87.6L46.6 93.1L47.4 98.6L46.3 104.1L47.7 109.6L47.4 115.2L46.1 120.7M59.2 19.0L65.0 21.5L70.0 24.2L74.1 28.3L79.4 33.4L82.4 39.0L83.5 45.0L86.9 51.2L86.7 57.6L88.0 64.0L89.1 70.4L88.3 76.9L90.5 83.3L89.5 89.7L90.4 96.2L90.9 102.6L89.7 109.1L91.5 115.5L90.0 122.0M58.6 21.0L63.6 23.5L69.2 26.4L75.1 30.6L78.5 35.6L80.0 41.2L83.6 47.1L84.2 53.2L84.9 59.4L86.8 65.6L85.7 71.9L87.6 78.2L87.8 84.4L87.6 90.7L89.5 96.9L88.2 103.2L89.4 109.4L89.6 115.7L88.5 122.0M58.3 23.0L64.6 25.6L70.6 28.6L74.2 32.8L76.4 37.9L80.3 43.5L81.5 49.3L82.0 55.2L84.4 61.2L83.4 67.3L84.5 73.4L85.7 79.5L84.8 85.5L87.1 91.6L86.9 97.6L86.8 103.7L88.6 109.8L87.1 115.9L88.2 122.0M60.2 25.0L65.3 27.7L69.4 30.7L72.7 35.1L77.0 40.2L78.6 45.7L79.2 51.4L81.9 57.2L81.3 63.1L81.7 69.0L83.4 74.9L82.3 80.8L84.0 86.6L85.1 92.5L84.4 98.4L86.5 104.3L86.2 110.2L85.8 116.1L87.6 122.0M59.6 27.0L63.9 29.7L68.8 32.9L73.7 37.4L75.6 42.5L76.5 47.9L79.4 53.5L79.3 59.2L79.2 64.9L81.0 70.6L79.9 76.4L80.8 82.1L82.7 87.8L82.0 93.4L83.8 99.1L84.9 104.8L83.9 110.5L85.6 116.3L85.6 122.0"/></g></g></svg><div class="bd"><svg viewBox="0 0 512 512" width="42" height="42"><circle cx="256" cy="256" r="256" fill="#eee"/><defs><clipPath id="b1"><circle cx="256" cy="256" r="256"/></clipPath></defs><path clip-path="url(#b1)" fill="#d80027" d="M218 0h76v218h218v76H294v218h-76V294H0v-76h218z"/></svg></div><div class="t" style="left:174.10px;top:68.00px;font-size:25.30px;color:#1e293b;letter-spacing:-0.082px;">Elisabeth F.</div><div class="t" style="left:174.10px;top:103.00px;font-size:21.60px;color:#94a3b8;letter-spacing:0.347px;">Mobile Developer</div><div class="so" style="left:511px"><svg viewBox="0 0 320 512" style="left:17.38px;top:14px;width:11.25px;height:18px"><path d="M279.14 288l14.22-92.66h-88.91v-60.13c0-25.35 12.42-50.06 52.24-50.06h40.42V6.26S260.43 0 225.36 0c-73.22 0-121.08 44.38-121.08 124.72v70.62H22.89V288h81.39v224h100.17V288z"/></svg></div><div class="so" style="left:577px"><svg viewBox="0 0 512 512" style="left:14.00px;top:14px;width:18.00px;height:18px"><path d="M459.37 151.716c.325 4.548.325 9.097.325 13.645 0 138.72-105.583 298.558-298.558 298.558-59.452 0-114.68-17.219-161.137-47.106 8.447.974 16.568 1.299 25.34 1.299 49.055 0 94.213-16.568 130.274-44.832-46.132-.975-84.792-31.188-98.112-72.772 6.498.974 12.995 1.624 19.818 1.624 9.421 0 18.843-1.3 27.614-3.573-48.081-9.747-84.143-51.98-84.143-102.985v-1.299c13.969 7.797 30.214 12.67 47.431 13.319-28.264-18.843-46.781-51.005-46.781-87.391 0-19.492 5.197-37.36 14.294-52.954 51.655 63.675 129.3 105.258 216.365 109.807-1.624-7.797-2.599-15.918-2.599-24.04 0-57.828 46.782-104.934 104.934-104.934 30.213 0 57.502 12.67 76.67 33.137 23.715-4.548 46.456-13.32 66.599-25.34-7.798 24.366-24.366 44.833-46.132 57.827 21.117-2.273 41.584-8.122 60.426-16.243-14.292 20.791-32.161 39.308-52.628 54.253z"/></svg></div><div class="so" style="left:643px"><svg viewBox="0 0 448 512" style="left:15.12px;top:14px;width:15.75px;height:18px"><path d="M100.28 448H7.4V148.9h92.88zM53.79 108.1C24.09 108.1 0 83.5 0 53.8a53.79 53.79 0 0 1 107.58 0c0 29.7-24.1 54.3-53.79 54.3zM447.9 448h-92.68V302.4c0-34.7-.7-79.2-48.29-79.2-48.29 0-55.69 37.7-55.69 76.7V448h-92.78V148.9h89.08v40.8h1.3c12.4-23.5 42.69-48.3 87.88-48.3 94 0 111.28 61.9 111.28 142.3V448z"/></svg></div><div class="so" style="left:709px"><svg viewBox="0 0 496 512" style="left:14.28px;top:14px;width:17.44px;height:18px"><path d="M244.8 8C106.1 8 0 113.3 0 252c0 110.9 69.8 205.800 169.5 239.2 12.8 2.300 17.3-5.600 17.3-12.100 0-6.200-.3-40.400-.3-61.400 0 0-70 15-84.700-29.800 0 0-11.400-29.100-27.800-36.600 0 0-22.900-15.700 1.600-15.400 0 0 24.900 2 38.600 25.800 21.900 38.600 58.600 27.500 72.900 20.900 2.300-16 8.800-27.100 16-33.700-55.900-6.200-112.300-14.300-112.300-110.500 0-27.500 7.600-41.300 23.600-58.900-2.600-6.500-11.100-33.300 2.600-67.900 20.900-6.500 69 27 69 27 20-5.600 41.500-8.500 62.800-8.500s42.800 2.900 62.800 8.500c0 0 48.100-33.600 69-27 13.700 34.700 5.200 61.400 2.600 67.900 16 17.700 25.800 31.500 25.800 58.900 0 96.500-58.900 104.200-114.800 110.500 9.200 7.900 17 22.900 17 46.400 0 33.700-.3 75.400-.3 83.600 0 6.500 4.600 14.400 17.300 12.100C428.200 457.800 496 362.900 496 252 496 113.300 383.500 8 244.800 8z"/></svg></div><div class="sep"></div><div class="t" style="left:35.70px;top:230.00px;font-size:21.80px;color:#334155;letter-spacing:0.092px;">Progress</div><div class="t" style="left:381.44px;top:231.00px;font-size:22.00px;color:#94a3b8;transform:scaleX(0.983);transform-origin:right 50%;">49%</div><div class="bar"><i style="width:191.1px"></i></div><div class="btn"></div><div class="t" style="left:609.50px;top:236.00px;font-size:21.60px;color:#334155;letter-spacing:0.505px;">View profile</div></div><div class="card" style="left:510px;top:549px"><svg class="av" viewBox="0 0 120 120"><defs><clipPath id="ca2"><circle cx="60" cy="60" r="60"/></clipPath></defs><g clip-path="url(#ca2)"><rect width="120" height="120" fill="#ee1b72"/><path d="M18 110c10-9 22-13 32-14l30 4 22 12v12H18z" fill="#dcae30"/><path d="M36 98l8-6 32-8 6 18c-12 12-34 12-46-4z" fill="#f0824a"/><path d="M41 66h35v22l-35 9z" fill="#e8672a"/><ellipse cx="36" cy="50" rx="5" ry="10.5" fill="#f0824a" transform="rotate(-8 36 50)"/><ellipse cx="89.5" cy="58" rx="5" ry="9.5" fill="#f0824a" transform="rotate(12 89.5 58)"/><path d="M40 42c0-10 9-17 22-16 14 1 24 10 24 24 0 12-4 24-12 30-6 5-14 6-20 2-9-7-14-22-14-40z" fill="#f0824a"/><path d="M40 44c-3-15 7-28 21-29l3-2-1 2c14 0 27 12 25 33l-4-5c0-5-3-10-7-12l-4 6-1-4-4 7-3 3-13-16c-6 2-10 9-12 17z" fill="#1c3a5a"/><path d="M55 30l13 16 3-3 4-7c-3 8-6 13-9 16z" fill="#e8672a"/><path d="M45 49q7-4 15 0M68 52q7-3 13 1" stroke="#1c3a5a" stroke-width="2" fill="none" stroke-linecap="round"/><circle cx="51.5" cy="53.5" r="1.1" fill="#1a1a1a"/><circle cx="74" cy="56" r="1.1" fill="#1a1a1a"/><circle cx="47" cy="60.5" r="4.6" fill="#f85c3c"/><circle cx="74" cy="63.5" r="4.6" fill="#f85c3c"/><path d="M57 67q6 3 12 1M59 72q4 3 9 0" stroke="#c8552a" stroke-width=".9" fill="none"/></g></svg><div class="bd"><svg viewBox="0 0 512 512" width="42" height="42"><defs><clipPath id="b2"><circle cx="256" cy="256" r="256"/></clipPath></defs><g clip-path="url(#b2)"><rect width="512" height="512" fill="#eee"/><path fill="#d80027" d="M224 64h288v64H224zm0 128h288v64H224zM0 320h512v64H0zm0 128h512v64H0z"/><rect width="256" height="256" fill="#0052b4"/><g fill="#eee"><polygon points="24.0,21.0 31.3,42.0 53.5,42.4 35.8,55.8 42.2,77.1 24.0,64.4 5.8,77.1 12.2,55.8 -5.5,42.4 16.7,42.0"/><polygon points="108.0,21.0 115.3,42.0 137.5,42.4 119.8,55.8 126.2,77.1 108.0,64.4 89.8,77.1 96.2,55.8 78.5,42.4 100.7,42.0"/><polygon points="196.0,21.0 203.3,42.0 225.5,42.4 207.8,55.8 214.2,77.1 196.0,64.4 177.8,77.1 184.2,55.8 166.5,42.4 188.7,42.0"/><polygon points="24.0,95.0 31.3,116.0 53.5,116.4 35.8,129.8 42.2,151.1 24.0,138.4 5.8,151.1 12.2,129.8 -5.5,116.4 16.7,116.0"/><polygon points="108.0,95.0 115.3,116.0 137.5,116.4 119.8,129.8 126.2,151.1 108.0,138.4 89.8,151.1 96.2,129.8 78.5,116.4 100.7,116.0"/><polygon points="196.0,95.0 203.3,116.0 225.5,116.4 207.8,129.8 214.2,151.1 196.0,138.4 177.8,151.1 184.2,129.8 166.5,116.4 188.7,116.0"/><polygon points="24.0,171.0 31.3,192.0 53.5,192.4 35.8,205.8 42.2,227.1 24.0,214.4 5.8,227.1 12.2,205.8 -5.5,192.4 16.7,192.0"/><polygon points="108.0,171.0 115.3,192.0 137.5,192.4 119.8,205.8 126.2,227.1 108.0,214.4 89.8,227.1 96.2,205.8 78.5,192.4 100.7,192.0"/><polygon points="196.0,171.0 203.3,192.0 225.5,192.4 207.8,205.8 214.2,227.1 196.0,214.4 177.8,227.1 184.2,205.8 166.5,192.4 188.7,192.0"/></g></g></svg></div><div class="t" style="left:174.60px;top:68.00px;font-size:25.30px;color:#1e293b;letter-spacing:-0.751px;">Erik K.</div><div class="t" style="left:174.10px;top:103.00px;font-size:21.60px;color:#94a3b8;letter-spacing:0.318px;">Software Engineer</div><div class="so" style="left:511px"><svg viewBox="0 0 320 512" style="left:17.38px;top:14px;width:11.25px;height:18px"><path d="M279.14 288l14.22-92.66h-88.91v-60.13c0-25.35 12.42-50.06 52.24-50.06h40.42V6.26S260.43 0 225.36 0c-73.22 0-121.08 44.38-121.08 124.72v70.62H22.89V288h81.39v224h100.17V288z"/></svg></div><div class="so" style="left:577px"><svg viewBox="0 0 512 512" style="left:14.00px;top:14px;width:18.00px;height:18px"><path d="M459.37 151.716c.325 4.548.325 9.097.325 13.645 0 138.72-105.583 298.558-298.558 298.558-59.452 0-114.68-17.219-161.137-47.106 8.447.974 16.568 1.299 25.34 1.299 49.055 0 94.213-16.568 130.274-44.832-46.132-.975-84.792-31.188-98.112-72.772 6.498.974 12.995 1.624 19.818 1.624 9.421 0 18.843-1.3 27.614-3.573-48.081-9.747-84.143-51.98-84.143-102.985v-1.299c13.969 7.797 30.214 12.67 47.431 13.319-28.264-18.843-46.781-51.005-46.781-87.391 0-19.492 5.197-37.36 14.294-52.954 51.655 63.675 129.3 105.258 216.365 109.807-1.624-7.797-2.599-15.918-2.599-24.04 0-57.828 46.782-104.934 104.934-104.934 30.213 0 57.502 12.67 76.67 33.137 23.715-4.548 46.456-13.32 66.599-25.34-7.798 24.366-24.366 44.833-46.132 57.827 21.117-2.273 41.584-8.122 60.426-16.243-14.292 20.791-32.161 39.308-52.628 54.253z"/></svg></div><div class="so" style="left:643px"><svg viewBox="0 0 448 512" style="left:15.12px;top:14px;width:15.75px;height:18px"><path d="M100.28 448H7.4V148.9h92.88zM53.79 108.1C24.09 108.1 0 83.5 0 53.8a53.79 53.79 0 0 1 107.58 0c0 29.7-24.1 54.3-53.79 54.3zM447.9 448h-92.68V302.4c0-34.7-.7-79.2-48.29-79.2-48.29 0-55.69 37.7-55.69 76.7V448h-92.78V148.9h89.08v40.8h1.3c12.4-23.5 42.69-48.3 87.88-48.3 94 0 111.28 61.9 111.28 142.3V448z"/></svg></div><div class="so" style="left:709px"><svg viewBox="0 0 496 512" style="left:14.28px;top:14px;width:17.44px;height:18px"><path d="M244.8 8C106.1 8 0 113.3 0 252c0 110.9 69.8 205.800 169.5 239.2 12.8 2.300 17.3-5.600 17.3-12.100 0-6.200-.3-40.400-.3-61.400 0 0-70 15-84.700-29.800 0 0-11.400-29.100-27.800-36.600 0 0-22.900-15.700 1.600-15.400 0 0 24.900 2 38.600 25.800 21.900 38.600 58.600 27.500 72.900 20.900 2.300-16 8.800-27.100 16-33.700-55.900-6.200-112.300-14.300-112.300-110.500 0-27.500 7.600-41.300 23.600-58.900-2.600-6.500-11.100-33.300 2.600-67.900 20.900-6.500 69 27 69 27 20-5.600 41.500-8.500 62.800-8.500s42.800 2.900 62.800 8.500c0 0 48.100-33.600 69-27 13.700 34.700 5.200 61.400 2.600 67.900 16 17.700 25.800 31.500 25.800 58.900 0 96.500-58.900 104.200-114.800 110.500 9.200 7.900 17 22.900 17 46.400 0 33.700-.3 75.400-.3 83.600 0 6.500 4.600 14.400 17.300 12.100C428.200 457.800 496 362.900 496 252 496 113.300 383.500 8 244.800 8z"/></svg></div><div class="sep"></div><div class="t" style="left:35.70px;top:230.00px;font-size:21.80px;color:#334155;letter-spacing:0.092px;">Progress</div><div class="t" style="left:381.44px;top:231.00px;font-size:22.00px;color:#94a3b8;transform:scaleX(0.926);transform-origin:right 50%;">61%</div><div class="bar"><i style="width:237.9px"></i></div><div class="btn"></div><div class="t" style="left:609.50px;top:236.00px;font-size:21.60px;color:#334155;letter-spacing:0.505px;">View profile</div></div><div class="card" style="left:1329px;top:549px"><svg class="av" viewBox="0 0 120 120"><defs><clipPath id="ca3"><circle cx="60" cy="60" r="60"/></clipPath></defs><g clip-path="url(#ca3)"><rect width="120" height="120" fill="#f0aa28"/><path d="M47 82l23-16 3 36-12 18-14-6z" fill="#f0824a"/><path d="M47 84h16l-16 16z" fill="#f0622a"/><path d="M28 116l18-13 1 9 24-12 22 14v10H28z" fill="#d0404e"/><circle cx="79.4" cy="31.4" r="17.3" fill="#4a3a32"/><path d="M35 44c4-15 20-21 33-17 11 4 14 16 12 28l-8 14-4-14c-4-10-10-18-20-18-6 0-10 3-13 7z" fill="#4a3a32"/><path d="M35 43c6-9 24-10 33 1 2 10 2 22-2 32-4 8-14 11-20 8-8-10-12-27-11-41z" fill="#f0824a"/><ellipse cx="75.5" cy="59.5" rx="6" ry="8.6" fill="#f0622a"/><path d="M34.5 54q5-3 10-1M51 52q7-5 14-4" stroke="#3a2c26" stroke-width="1.8" fill="none" stroke-linecap="round"/><circle cx="38" cy="58" r="1.1" fill="#1a1a1a"/><circle cx="58" cy="56.5" r="1.1" fill="#1a1a1a"/><path d="M35.5 62a4.5 4.5 0 0 1 3 9c-2-3-3-6-3-9z" fill="#f85c3c"/><circle cx="56.5" cy="64.5" r="4.5" fill="#f85c3c"/><path d="M40.5 73q5-3 10 0q-5 4-10 0z" fill="#f85c3c"/><path d="M44 58l-2 9 3 1" stroke="#b8522a" stroke-width=".8" fill="none"/><g stroke="#2e2420" stroke-width=".6" fill="none"><path d="M68 22q10-6 20 2M66 30q12-8 26 4M70 40q12-4 22 0M72 68q3 8 0 16M75 68q3 8 1 14M44 30q12-5 24 2M40 36q14-6 28 4"/></g></g></svg><div class="bd"><svg viewBox="0 0 512 512" width="42" height="42"><circle cx="256" cy="256" r="256" fill="#f7df1e"/><text x="296" y="441" font-family="Liberation Sans, sans-serif" font-weight="700" font-size="290" text-anchor="middle" textLength="322" lengthAdjust="spacingAndGlyphs" fill="#000">JS</text></svg></div><div class="t" style="left:173.80px;top:68.00px;font-size:25.30px;color:#1e293b;letter-spacing:-0.506px;">Kendra W.</div><div class="t" style="left:174.10px;top:103.00px;font-size:21.60px;color:#94a3b8;letter-spacing:0.318px;">Software Engineer</div><div class="so" style="left:511px"><svg viewBox="0 0 320 512" style="left:17.38px;top:14px;width:11.25px;height:18px"><path d="M279.14 288l14.22-92.66h-88.91v-60.13c0-25.35 12.42-50.06 52.24-50.06h40.42V6.26S260.43 0 225.36 0c-73.22 0-121.08 44.38-121.08 124.72v70.62H22.89V288h81.39v224h100.17V288z"/></svg></div><div class="so" style="left:577px"><svg viewBox="0 0 512 512" style="left:14.00px;top:14px;width:18.00px;height:18px"><path d="M459.37 151.716c.325 4.548.325 9.097.325 13.645 0 138.72-105.583 298.558-298.558 298.558-59.452 0-114.68-17.219-161.137-47.106 8.447.974 16.568 1.299 25.34 1.299 49.055 0 94.213-16.568 130.274-44.832-46.132-.975-84.792-31.188-98.112-72.772 6.498.974 12.995 1.624 19.818 1.624 9.421 0 18.843-1.3 27.614-3.573-48.081-9.747-84.143-51.98-84.143-102.985v-1.299c13.969 7.797 30.214 12.67 47.431 13.319-28.264-18.843-46.781-51.005-46.781-87.391 0-19.492 5.197-37.36 14.294-52.954 51.655 63.675 129.3 105.258 216.365 109.807-1.624-7.797-2.599-15.918-2.599-24.04 0-57.828 46.782-104.934 104.934-104.934 30.213 0 57.502 12.67 76.67 33.137 23.715-4.548 46.456-13.32 66.599-25.34-7.798 24.366-24.366 44.833-46.132 57.827 21.117-2.273 41.584-8.122 60.426-16.243-14.292 20.791-32.161 39.308-52.628 54.253z"/></svg></div><div class="so" style="left:643px"><svg viewBox="0 0 448 512" style="left:15.12px;top:14px;width:15.75px;height:18px"><path d="M100.28 448H7.4V148.9h92.88zM53.79 108.1C24.09 108.1 0 83.5 0 53.8a53.79 53.79 0 0 1 107.58 0c0 29.7-24.1 54.3-53.79 54.3zM447.9 448h-92.68V302.4c0-34.7-.7-79.2-48.29-79.2-48.29 0-55.69 37.7-55.69 76.7V448h-92.78V148.9h89.08v40.8h1.3c12.4-23.5 42.69-48.3 87.88-48.3 94 0 111.28 61.9 111.28 142.3V448z"/></svg></div><div class="so" style="left:709px"><svg viewBox="0 0 496 512" style="left:14.28px;top:14px;width:17.44px;height:18px"><path d="M244.8 8C106.1 8 0 113.3 0 252c0 110.9 69.8 205.800 169.5 239.2 12.8 2.300 17.3-5.600 17.3-12.100 0-6.200-.3-40.400-.3-61.400 0 0-70 15-84.700-29.800 0 0-11.400-29.100-27.800-36.600 0 0-22.900-15.700 1.600-15.400 0 0 24.900 2 38.600 25.800 21.900 38.600 58.600 27.500 72.900 20.900 2.300-16 8.800-27.100 16-33.700-55.900-6.200-112.300-14.300-112.300-110.500 0-27.500 7.600-41.300 23.600-58.900-2.600-6.500-11.100-33.300 2.600-67.900 20.900-6.500 69 27 69 27 20-5.600 41.500-8.500 62.800-8.500s42.800 2.900 62.800 8.500c0 0 48.100-33.600 69-27 13.700 34.700 5.200 61.400 2.600 67.900 16 17.700 25.800 31.500 25.800 58.900 0 96.500-58.900 104.200-114.800 110.500 9.200 7.900 17 22.900 17 46.400 0 33.700-.3 75.400-.3 83.600 0 6.500 4.600 14.400 17.300 12.100C428.200 457.800 496 362.900 496 252 496 113.300 383.500 8 244.800 8z"/></svg></div><div class="sep"></div><div class="t" style="left:35.70px;top:230.00px;font-size:21.80px;color:#334155;letter-spacing:0.092px;">Progress</div><div class="t" style="left:381.44px;top:231.00px;font-size:22.00px;color:#94a3b8;transform:scaleX(0.972);transform-origin:right 50%;">28%</div><div class="bar"><i style="width:109.2px"></i></div><div class="btn"></div><div class="t" style="left:609.50px;top:236.00px;font-size:21.60px;color:#334155;letter-spacing:0.505px;">View profile</div></div><div class="card" style="left:510px;top:876px"><svg class="av" viewBox="0 0 120 120"><defs><clipPath id="ca4"><circle cx="60" cy="60" r="60"/></clipPath></defs><g clip-path="url(#ca4)"><rect width="120" height="120" fill="#1fba76"/><g fill="#d04456"><circle cx="46" cy="32" r="11"/><circle cx="58" cy="29" r="11"/><circle cx="71" cy="31" r="11"/><circle cx="82" cy="40" r="11"/><circle cx="88.5" cy="52" r="11"/><circle cx="90" cy="64" r="10.5"/><circle cx="87" cy="74" r="9"/><circle cx="36" cy="42" r="11"/><circle cx="32" cy="55" r="10"/><circle cx="28" cy="66" r="10.5"/><circle cx="30.5" cy="77" r="10"/><circle cx="38" cy="84" r="8"/><circle cx="60" cy="55" r="28"/></g><path d="M34 126l12-24 34-4 12 28z" fill="#f0824a"/><path d="M46 88h33l2 14c-10 8-24 8-34 2z" fill="#e8672a"/><circle cx="41" cy="72" r="6.5" fill="#f0622a"/><circle cx="85" cy="71" r="5" fill="#f0622a"/><path d="M44 62c0-12 7-22 19-22s19 10 19 22c0 14-4 26-12 32-5 3-11 2-15-2-8-8-11-18-11-30z" fill="#f0824a"/><path d="M44 58c1-11 8-18 19-18s18 7 19 18c-4-8-10-12-19-12s-15 4-19 12z" fill="#e8672a"/><path d="M47 59q6-4 13-1M68 58q7-3 12 2" stroke="#2a2622" stroke-width="3" fill="none" stroke-linecap="round"/><circle cx="53" cy="64" r="1.1" fill="#1a1a1a"/><circle cx="73" cy="64" r="1.1" fill="#1a1a1a"/><circle cx="53" cy="73" r="4.6" fill="#f85c3c"/><circle cx="74.5" cy="71.5" r="4.6" fill="#f85c3c"/><path fill-rule="evenodd" d="M46 78.500c2 11.500 9 18.500 17 18.500s16-7 18-18c-3 1-6 0-9-2-3-2.500-6-3.500-8.500-3.500s-6 1-9 3.500c-3 2-5.500 2.500-8.500 1.500zM55 85.500a7.500 5 0 1 0 15 0a7.500 5 0 1 0-15 0z" fill="#c8663a"/><path d="M58.500 85q4 2 8 0" stroke="#e8672a" stroke-width="1.400" fill="none"/></g></svg><div class="bd"><svg viewBox="0 0 512 512" width="42" height="42"><defs><clipPath id="b4"><circle cx="256" cy="256" r="256"/></clipPath></defs><g clip-path="url(#b4)"><rect width="512" height="512" fill="#eee"/><path fill="#d80027" d="M224 64h288v64H224zm0 128h288v64H224zM0 320h512v64H0zm0 128h512v64H0z"/><rect width="256" height="256" fill="#0052b4"/><g fill="#eee"><polygon points="24.0,21.0 31.3,42.0 53.5,42.4 35.8,55.8 42.2,77.1 24.0,64.4 5.8,77.1 12.2,55.8 -5.5,42.4 16.7,42.0"/><polygon points="108.0,21.0 115.3,42.0 137.5,42.4 119.8,55.8 126.2,77.1 108.0,64.4 89.8,77.1 96.2,55.8 78.5,42.4 100.7,42.0"/><polygon points="196.0,21.0 203.3,42.0 225.5,42.4 207.8,55.8 214.2,77.1 196.0,64.4 177.8,77.1 184.2,55.8 166.5,42.4 188.7,42.0"/><polygon points="24.0,95.0 31.3,116.0 53.5,116.4 35.8,129.8 42.2,151.1 24.0,138.4 5.8,151.1 12.2,129.8 -5.5,116.4 16.7,116.0"/><polygon points="108.0,95.0 115.3,116.0 137.5,116.4 119.8,129.8 126.2,151.1 108.0,138.4 89.8,151.1 96.2,129.8 78.5,116.4 100.7,116.0"/><polygon points="196.0,95.0 203.3,116.0 225.5,116.4 207.8,129.8 214.2,151.1 196.0,138.4 177.8,151.1 184.2,129.8 166.5,116.4 188.7,116.0"/><polygon points="24.0,171.0 31.3,192.0 53.5,192.4 35.8,205.8 42.2,227.1 24.0,214.4 5.8,227.1 12.2,205.8 -5.5,192.4 16.7,192.0"/><polygon points="108.0,171.0 115.3,192.0 137.5,192.4 119.8,205.8 126.2,227.1 108.0,214.4 89.8,227.1 96.2,205.8 78.5,192.4 100.7,192.0"/><polygon points="196.0,171.0 203.3,192.0 225.5,192.4 207.8,205.8 214.2,227.1 196.0,214.4 177.8,227.1 184.2,205.8 166.5,192.4 188.7,192.0"/></g></g></svg></div><div class="t" style="left:174.60px;top:68.00px;font-size:25.30px;color:#1e293b;letter-spacing:-0.301px;">Hermann M.</div><div class="t" style="left:174.60px;top:103.00px;font-size:21.60px;color:#94a3b8;letter-spacing:0.331px;">Product Manager</div><div class="so" style="left:511px"><svg viewBox="0 0 320 512" style="left:17.38px;top:14px;width:11.25px;height:18px"><path d="M279.14 288l14.22-92.66h-88.91v-60.13c0-25.35 12.42-50.06 52.24-50.06h40.42V6.26S260.43 0 225.36 0c-73.22 0-121.08 44.38-121.08 124.72v70.62H22.89V288h81.39v224h100.17V288z"/></svg></div><div class="so" style="left:577px"><svg viewBox="0 0 512 512" style="left:14.00px;top:14px;width:18.00px;height:18px"><path d="M459.37 151.716c.325 4.548.325 9.097.325 13.645 0 138.72-105.583 298.558-298.558 298.558-59.452 0-114.68-17.219-161.137-47.106 8.447.974 16.568 1.299 25.34 1.299 49.055 0 94.213-16.568 130.274-44.832-46.132-.975-84.792-31.188-98.112-72.772 6.498.974 12.995 1.624 19.818 1.624 9.421 0 18.843-1.3 27.614-3.573-48.081-9.747-84.143-51.98-84.143-102.985v-1.299c13.969 7.797 30.214 12.67 47.431 13.319-28.264-18.843-46.781-51.005-46.781-87.391 0-19.492 5.197-37.36 14.294-52.954 51.655 63.675 129.3 105.258 216.365 109.807-1.624-7.797-2.599-15.918-2.599-24.04 0-57.828 46.782-104.934 104.934-104.934 30.213 0 57.502 12.67 76.67 33.137 23.715-4.548 46.456-13.32 66.599-25.34-7.798 24.366-24.366 44.833-46.132 57.827 21.117-2.273 41.584-8.122 60.426-16.243-14.292 20.791-32.161 39.308-52.628 54.253z"/></svg></div><div class="so" style="left:643px"><svg viewBox="0 0 448 512" style="left:15.12px;top:14px;width:15.75px;height:18px"><path d="M100.28 448H7.4V148.9h92.88zM53.79 108.1C24.09 108.1 0 83.5 0 53.8a53.79 53.79 0 0 1 107.58 0c0 29.7-24.1 54.3-53.79 54.3zM447.9 448h-92.68V302.4c0-34.7-.7-79.2-48.29-79.2-48.29 0-55.69 37.7-55.69 76.7V448h-92.78V148.9h89.08v40.8h1.3c12.4-23.5 42.69-48.3 87.88-48.3 94 0 111.28 61.9 111.28 142.3V448z"/></svg></div><div class="so" style="left:709px"><svg viewBox="0 0 496 512" style="left:14.28px;top:14px;width:17.44px;height:18px"><path d="M244.8 8C106.1 8 0 113.3 0 252c0 110.9 69.8 205.800 169.5 239.2 12.8 2.300 17.3-5.600 17.3-12.100 0-6.200-.3-40.400-.3-61.400 0 0-70 15-84.700-29.800 0 0-11.400-29.100-27.800-36.600 0 0-22.900-15.700 1.600-15.400 0 0 24.900 2 38.600 25.800 21.900 38.600 58.600 27.500 72.900 20.900 2.300-16 8.800-27.100 16-33.700-55.900-6.200-112.300-14.300-112.300-110.500 0-27.500 7.600-41.300 23.600-58.900-2.600-6.500-11.100-33.300 2.600-67.900 20.900-6.500 69 27 69 27 20-5.600 41.500-8.500 62.800-8.500s42.800 2.900 62.800 8.500c0 0 48.100-33.600 69-27 13.700 34.700 5.200 61.400 2.600 67.900 16 17.700 25.800 31.500 25.800 58.900 0 96.500-58.900 104.200-114.800 110.500 9.200 7.900 17 22.900 17 46.400 0 33.700-.3 75.400-.3 83.600 0 6.500 4.600 14.400 17.300 12.100C428.200 457.800 496 362.900 496 252 496 113.300 383.500 8 244.800 8z"/></svg></div><div class="sep"></div><div class="t" style="left:35.70px;top:230.00px;font-size:21.80px;color:#334155;letter-spacing:0.092px;">Progress</div><div class="t" style="left:381.44px;top:231.00px;font-size:22.00px;color:#94a3b8;transform:scaleX(0.983);transform-origin:right 50%;">36%</div><div class="bar"><i style="width:140.4px"></i></div><div class="btn"></div><div class="t" style="left:609.50px;top:236.00px;font-size:21.60px;color:#334155;letter-spacing:0.505px;">View profile</div></div><div class="card" style="left:1329px;top:876px"><svg class="av" viewBox="0 0 120 120"><defs><clipPath id="ca5"><circle cx="60" cy="60" r="60"/></clipPath></defs><g clip-path="url(#ca5)"><rect width="120" height="120" fill="#7f6be8"/><path d="M20 112c8-7 14-10 20-12 10 12 28 12 40 4l20 10v10H20z" fill="#dcae30"/><path d="M33 105l13-14 29-2 8 17c-12 9-34 9-50-1z" fill="#f0824a"/><path d="M42 70l32 4v18c-10 8-22 7-32-2z" fill="#e8672a"/><path d="M40 66c-5 1-9-6-10-12-1-5 2-7 5-5 3 2 5 8 6 12z" fill="#f85c3c"/><path d="M76 66c6 0 10-8 11-14 0-4-3-6-6-3-3 3-5 9-6 13z" fill="#f85c3c"/><path d="M38 40c0-12 9-18 22-18 12 0 19 8 19 20 0 14-1 24-5 32-6 10-14 14-20 10-10-6-16-24-16-44z" fill="#f0824a"/><path d="M36 50c-3-18 5-33 19-35l2-1 1 1 2-1 1 1c13 1 22 14 19 33l-3-7c-1-8-5-14-11-16-8 4-18 3-24 4-3 4-5 12-6 21z" fill="#3a302e"/><path d="M41 47q9-2 17 3M62 50q8-1 14-5" stroke="#2a2622" stroke-width="2.4" fill="none" stroke-linecap="round"/><circle cx="48" cy="52.5" r="1.1" fill="#1a1a1a"/><circle cx="69.5" cy="51.5" r="1.1" fill="#1a1a1a"/><circle cx="47" cy="61.5" r="4.4" fill="#f85c3c"/><circle cx="70" cy="59.5" r="4.4" fill="#f85c3c"/><path d="M42 70c8-6 24-7 34-4-2 12-10 20-18 20-8-2-14-8-16-16z" fill="#c87850"/><path d="M52 72q7-3 14 0q-7 4-14 0z" fill="#f0824a"/></g></svg><div class="bd"><svg viewBox="0 0 512 512" width="42" height="42"><defs><clipPath id="b5"><circle cx="256" cy="256" r="256"/></clipPath></defs><g clip-path="url(#b5)"><rect width="512" height="512" fill="#eee"/><path fill="#d80027" d="M224 64h288v64H224zm0 128h288v64H224zM0 320h512v64H0zm0 128h512v64H0z"/><rect width="256" height="256" fill="#0052b4"/><g fill="#eee"><polygon points="24.0,21.0 31.3,42.0 53.5,42.4 35.8,55.8 42.2,77.1 24.0,64.4 5.8,77.1 12.2,55.8 -5.5,42.4 16.7,42.0"/><polygon points="108.0,21.0 115.3,42.0 137.5,42.4 119.8,55.8 126.2,77.1 108.0,64.4 89.8,77.1 96.2,55.8 78.5,42.4 100.7,42.0"/><polygon points="196.0,21.0 203.3,42.0 225.5,42.4 207.8,55.8 214.2,77.1 196.0,64.4 177.8,77.1 184.2,55.8 166.5,42.4 188.7,42.0"/><polygon points="24.0,95.0 31.3,116.0 53.5,116.4 35.8,129.8 42.2,151.1 24.0,138.4 5.8,151.1 12.2,129.8 -5.5,116.4 16.7,116.0"/><polygon points="108.0,95.0 115.3,116.0 137.5,116.4 119.8,129.8 126.2,151.1 108.0,138.4 89.8,151.1 96.2,129.8 78.5,116.4 100.7,116.0"/><polygon points="196.0,95.0 203.3,116.0 225.5,116.4 207.8,129.8 214.2,151.1 196.0,138.4 177.8,151.1 184.2,129.8 166.5,116.4 188.7,116.0"/><polygon points="24.0,171.0 31.3,192.0 53.5,192.4 35.8,205.8 42.2,227.1 24.0,214.4 5.8,227.1 12.2,205.8 -5.5,192.4 16.7,192.0"/><polygon points="108.0,171.0 115.3,192.0 137.5,192.4 119.8,205.8 126.2,227.1 108.0,214.4 89.8,227.1 96.2,205.8 78.5,192.4 100.7,192.0"/><polygon points="196.0,171.0 203.3,192.0 225.5,192.4 207.8,205.8 214.2,227.1 196.0,214.4 177.8,227.1 184.2,205.8 166.5,192.4 188.7,192.0"/></g></g></svg></div><div class="t" style="left:174.60px;top:68.00px;font-size:25.30px;color:#1e293b;letter-spacing:-0.971px;">Dan B.</div><div class="t" style="left:174.60px;top:103.00px;font-size:21.60px;color:#94a3b8;letter-spacing:0.265px;">Project Manager</div><div class="so" style="left:511px"><svg viewBox="0 0 320 512" style="left:17.38px;top:14px;width:11.25px;height:18px"><path d="M279.14 288l14.22-92.66h-88.91v-60.13c0-25.35 12.42-50.06 52.24-50.06h40.42V6.26S260.43 0 225.36 0c-73.22 0-121.08 44.38-121.08 124.72v70.62H22.89V288h81.39v224h100.17V288z"/></svg></div><div class="so" style="left:577px"><svg viewBox="0 0 512 512" style="left:14.00px;top:14px;width:18.00px;height:18px"><path d="M459.37 151.716c.325 4.548.325 9.097.325 13.645 0 138.72-105.583 298.558-298.558 298.558-59.452 0-114.68-17.219-161.137-47.106 8.447.974 16.568 1.299 25.34 1.299 49.055 0 94.213-16.568 130.274-44.832-46.132-.975-84.792-31.188-98.112-72.772 6.498.974 12.995 1.624 19.818 1.624 9.421 0 18.843-1.3 27.614-3.573-48.081-9.747-84.143-51.98-84.143-102.985v-1.299c13.969 7.797 30.214 12.67 47.431 13.319-28.264-18.843-46.781-51.005-46.781-87.391 0-19.492 5.197-37.36 14.294-52.954 51.655 63.675 129.3 105.258 216.365 109.807-1.624-7.797-2.599-15.918-2.599-24.04 0-57.828 46.782-104.934 104.934-104.934 30.213 0 57.502 12.67 76.67 33.137 23.715-4.548 46.456-13.32 66.599-25.34-7.798 24.366-24.366 44.833-46.132 57.827 21.117-2.273 41.584-8.122 60.426-16.243-14.292 20.791-32.161 39.308-52.628 54.253z"/></svg></div><div class="so" style="left:643px"><svg viewBox="0 0 448 512" style="left:15.12px;top:14px;width:15.75px;height:18px"><path d="M100.28 448H7.4V148.9h92.88zM53.79 108.1C24.09 108.1 0 83.5 0 53.8a53.79 53.79 0 0 1 107.58 0c0 29.7-24.1 54.3-53.79 54.3zM447.9 448h-92.68V302.4c0-34.7-.7-79.2-48.29-79.2-48.29 0-55.69 37.7-55.69 76.7V448h-92.78V148.9h89.08v40.8h1.3c12.4-23.5 42.69-48.3 87.88-48.3 94 0 111.28 61.9 111.28 142.3V448z"/></svg></div><div class="so" style="left:709px"><svg viewBox="0 0 496 512" style="left:14.28px;top:14px;width:17.44px;height:18px"><path d="M244.8 8C106.1 8 0 113.3 0 252c0 110.9 69.8 205.800 169.5 239.2 12.8 2.300 17.3-5.600 17.3-12.100 0-6.200-.3-40.400-.3-61.400 0 0-70 15-84.700-29.800 0 0-11.400-29.100-27.800-36.600 0 0-22.900-15.700 1.600-15.400 0 0 24.900 2 38.600 25.800 21.900 38.600 58.600 27.500 72.900 20.900 2.300-16 8.800-27.100 16-33.700-55.900-6.200-112.300-14.300-112.300-110.500 0-27.500 7.600-41.300 23.600-58.900-2.600-6.500-11.100-33.300 2.600-67.900 20.900-6.500 69 27 69 27 20-5.600 41.500-8.500 62.800-8.500s42.800 2.900 62.800 8.500c0 0 48.100-33.600 69-27 13.700 34.700 5.200 61.400 2.600 67.900 16 17.700 25.800 31.500 25.800 58.900 0 96.500-58.900 104.200-114.800 110.500 9.200 7.900 17 22.900 17 46.400 0 33.700-.3 75.400-.3 83.600 0 6.500 4.600 14.400 17.300 12.100C428.200 457.800 496 362.900 496 252 496 113.300 383.500 8 244.800 8z"/></svg></div><div class="sep"></div><div class="t" style="left:35.70px;top:230.00px;font-size:21.80px;color:#334155;letter-spacing:0.092px;">Progress</div><div class="t" style="left:381.44px;top:231.00px;font-size:22.00px;color:#94a3b8;transform:scaleX(0.892);transform-origin:right 50%;">71%</div><div class="bar"><i style="width:276.9px"></i></div><div class="btn"></div><div class="t" style="left:609.50px;top:236.00px;font-size:21.60px;color:#334155;letter-spacing:0.505px;">View profile</div></div><div class="card" style="left:510px;top:1203px"></div><div class="card" style="left:1329px;top:1203px"></div>
</body>
</html>
